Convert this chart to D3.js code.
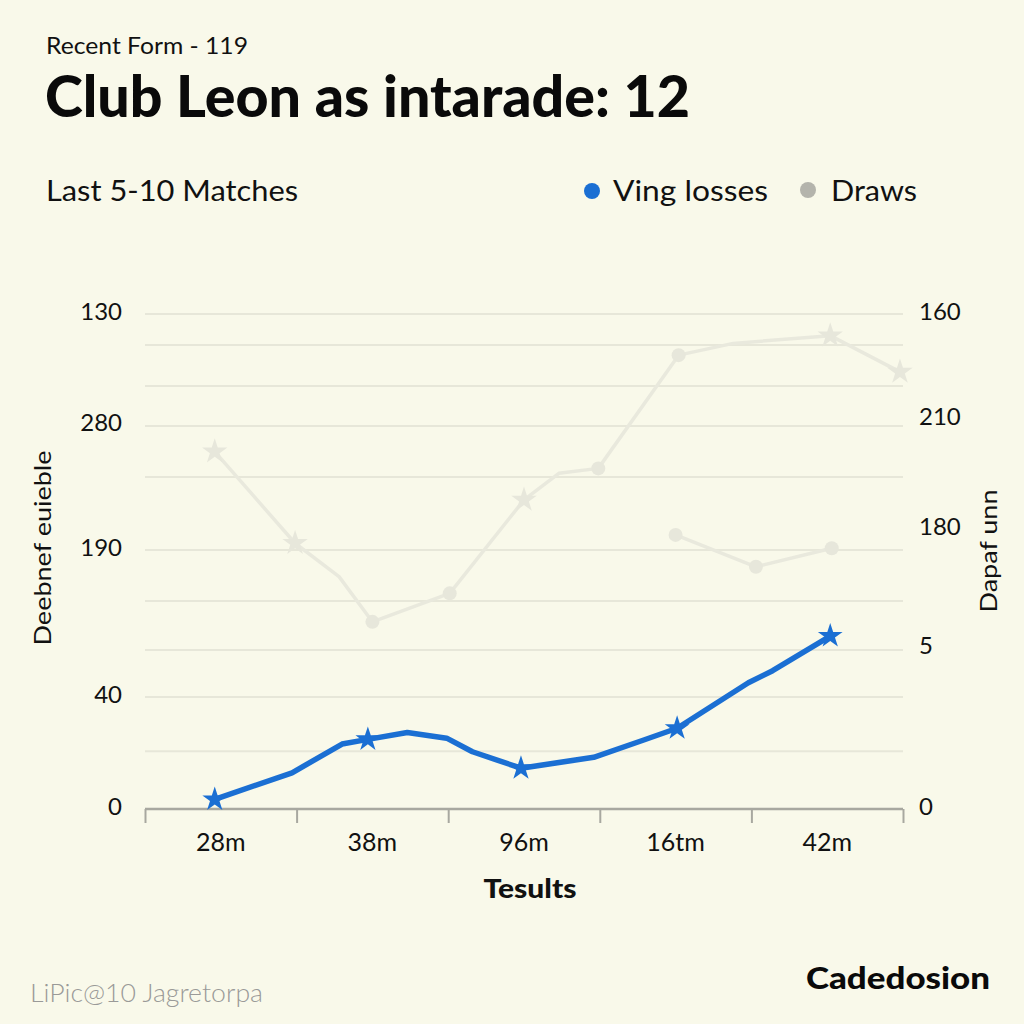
<!DOCTYPE html>
<html><head><meta charset="utf-8">
<script src="https://cdn.jsdelivr.net/npm/d3@7"></script>
<style>html,body{margin:0;padding:0;background:#f9f9ea;} svg{display:block}</style>
</head><body><svg id="c" width="1024" height="1024"></svg>
<script>
// ---- data ----
const categories = ["28m", "38m", "96m", "16tm", "42m"];
const leftTickValues = [160, 123.8, 83.7, 36.2, 0];
const leftTickLabels = ["130", "280", "190", "40", "0"];
const rightTickValues = [160, 126, 90.2, 52, 0];
const rightTickLabels = ["160", "210", "180", "5", "0"];
const gridValues = [160, 150, 136.7, 123.8, 107.3, 83.7, 67.2, 51.4, 36.2, 18.7];

// blue series ("Ving losses"): position along match axis, value
const lossesPos = [0.46, 0.97, 1.30, 1.47, 1.73, 1.99, 2.16, 2.48, 2.96, 3.29, 3.51, 3.98, 4.14, 4.52];
const lossesVal = [3.1, 11.7, 21.0, 22.5, 24.7, 22.9, 18.5, 13.2, 16.7, 22.3, 26.1, 40.8, 44.7, 55.9];
const lossesMark = ["star", "", "", "star", "", "", "", "star", "", "", "star", "", "", "star"];

// faint gray series ("Draws")
const drawsPos = [0.46, 0.99, 1.28, 1.50, 2.01, 2.50, 2.73, 2.99, 3.52, 3.88, 4.52, 4.98];
const drawsVal = [115.5, 85.9, 75.1, 60.5, 69.7, 99.9, 108.5, 110.1, 146.7, 150.5, 153, 141.3];
const drawsMark = ["star", "star", "", "circle", "circle", "star", "", "circle", "circle", "", "star", "star"];

const draws2Pos = [3.50, 4.03, 4.53];
const draws2Val = [88.6, 78.3, 84.3];
const draws2Mark = ["circle", "circle", "circle"];

// ---- drawing ----
const svg = d3.select("#c");
const W = 1024, H = 1024;
svg.append("rect").attr("width", W).attr("height", H).attr("fill", "#f9f9ea");

const x = d3.scaleLinear().domain([0, categories.length]).range([145, 903]);
const y = d3.scaleLinear().domain([0, 160]).range([809, 314]);

const FONT = "Lato, 'Open Sans', sans-serif";

function fitW(sel, w) { sel.attr("textLength", w).attr("lengthAdjust", "spacingAndGlyphs"); return sel; }

// gridlines
svg.append("g").selectAll("line").data(gridValues).join("line")
  .attr("x1", x(0)).attr("x2", x(categories.length))
  .attr("y1", d => y(d)).attr("y2", d => y(d))
  .attr("stroke", "#e7e7d9").attr("stroke-width", 2);

// x axis
const xAxis = d3.axisBottom(x).tickValues(d3.range(0, categories.length + 1)).tickSize(14).tickFormat("");
const gx = svg.append("g").attr("transform", `translate(0,${y(0)})`).call(xAxis);
gx.select(".domain").attr("stroke", "#a8a8a0").attr("stroke-width", 2.5).attr("d", `M${x(0)},0H${x(categories.length)}`);
gx.selectAll(".tick line").attr("stroke", "#a8a8a0").attr("stroke-width", 2);
svg.append("g").selectAll("text").data(categories).join("text")
  .attr("x", (d, i) => x(i + 0.5)).attr("y", 841)
  .attr("text-anchor", "middle").attr("dominant-baseline", "central")
  .attr("font-family", FONT).attr("font-size", 25).attr("fill", "#111")
  .text(d => d);

// left tick labels
svg.append("g").selectAll("text").data(leftTickValues).join("text")
  .attr("x", 122).attr("y", d => y(d) - 4)
  .attr("text-anchor", "end").attr("dominant-baseline", "central")
  .attr("font-family", FONT).attr("font-size", 24).attr("fill", "#111")
  .text((d, i) => leftTickLabels[i]);

// right tick labels
svg.append("g").selectAll("text").data(rightTickValues).join("text")
  .attr("x", 919).attr("y", d => y(d) - 4)
  .attr("text-anchor", "start").attr("dominant-baseline", "central")
  .attr("font-family", FONT).attr("font-size", 24).attr("fill", "#111")
  .text((d, i) => rightTickLabels[i]);

// lines
const line = d3.line().x(d => x(d[0])).y(d => y(d[1])).curve(d3.curveLinear);
function series(pos, val, mark, color, width, markColor, starSize, circleR) {
  const pts = pos.map((p, i) => [p, val[i], mark[i]]);
  svg.append("path").datum(pts).attr("d", line)
    .attr("fill", "none").attr("stroke", color).attr("stroke-width", width)
    .attr("stroke-linejoin", "round").attr("stroke-linecap", "round");
  const g = svg.append("g");
  g.selectAll("circle").data(pts.filter(d => d[2] === "circle")).join("circle")
    .attr("cx", d => x(d[0])).attr("cy", d => y(d[1])).attr("r", circleR).attr("fill", markColor);
  g.selectAll("path").data(pts.filter(d => d[2] === "star")).join("path")
    .attr("transform", d => `translate(${x(d[0])},${y(d[1])})`)
    .attr("d", d3.symbol().type(d3.symbolStar).size(starSize)).attr("fill", markColor);
}
series(drawsPos, drawsVal, drawsMark, "#e9e9dd", 3.5, "#e7e7db", 200, 7);
series(draws2Pos, draws2Val, draws2Mark, "#e9e9dd", 3.5, "#e7e7db", 200, 7);
series(lossesPos, lossesVal, lossesMark, "#1b6fd3", 5.5, "#1b6fd3", 190, 7);

// titles
svg.append("text").attr("x", 46).attr("y", 54).attr("font-family", FONT).attr("font-size", 23)
  .attr("fill", "#111").text("Recent Form - 119").call(fitW, 202);
svg.append("text").attr("x", 45).attr("y", 117).attr("font-family", FONT).attr("font-weight", 900)
  .attr("font-size", 58).attr("fill", "#0a0a0a").text("Club Leon as intarade: 12").call(fitW, 645);
svg.append("text").attr("x", 46).attr("y", 201).attr("font-family", FONT).attr("font-size", 29)
  .attr("fill", "#111").text("Last 5-10 Matches").call(fitW, 252);

// legend
svg.append("circle").attr("cx", 592).attr("cy", 191).attr("r", 8).attr("fill", "#1b6fd3");
svg.append("text").attr("x", 613).attr("y", 201).attr("font-family", FONT).attr("font-size", 29)
  .attr("fill", "#111").text("Ving losses").call(fitW, 155);
svg.append("circle").attr("cx", 808).attr("cy", 190).attr("r", 8).attr("fill", "#b4b4ac");
svg.append("text").attr("x", 831).attr("y", 201).attr("font-family", FONT).attr("font-size", 29)
  .attr("fill", "#111").text("Draws").call(fitW, 86);

// axis titles
svg.append("text").attr("transform", "translate(51,548) rotate(-90)").attr("text-anchor", "middle")
  .attr("font-family", FONT).attr("font-size", 24).attr("fill", "#111").text("Deebnef euieble").call(fitW, 195);
svg.append("text").attr("transform", "translate(997,551) rotate(-90)").attr("text-anchor", "middle")
  .attr("font-family", FONT).attr("font-size", 24).attr("fill", "#111").text("Dapaf unn").call(fitW, 123);
svg.append("text").attr("x", 530).attr("y", 898).attr("text-anchor", "middle").attr("font-family", FONT)
  .attr("font-weight", 900).attr("font-size", 27).attr("fill", "#111").text("Tesults").call(fitW, 93);

// footer
svg.append("text").attr("x", 30).attr("y", 1002).attr("font-family", FONT).attr("font-weight", 300)
  .attr("font-size", 25).attr("fill", "#9a9a98").text("LiPic@10 Jagretorpa").call(fitW, 233);
svg.append("text").attr("x", 806).attr("y", 989).attr("font-family", FONT).attr("font-weight", 900)
  .attr("font-size", 31).attr("fill", "#0a0a0a").text("Cadedosion").call(fitW, 184);
</script></body></html>
